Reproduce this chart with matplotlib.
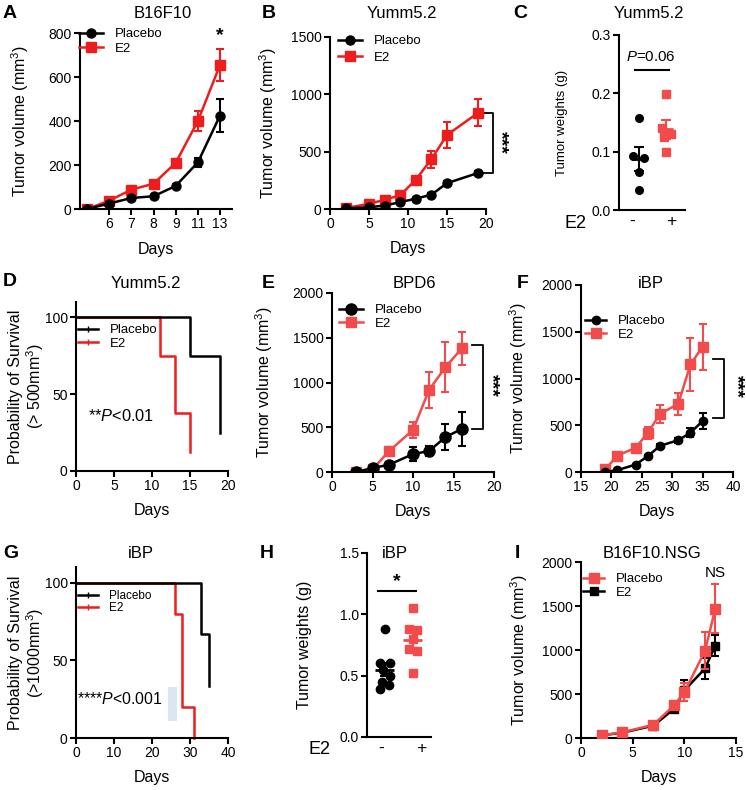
import numpy as np
import matplotlib
matplotlib.use('Agg')
import matplotlib.pyplot as plt
from matplotlib.lines import Line2D
from matplotlib.patches import Rectangle

plt.rcParams['font.family'] = ['Liberation Sans', 'DejaVu Sans']
plt.rcParams['mathtext.fontset'] = 'custom'
plt.rcParams['mathtext.rm'] = 'Liberation Sans'
plt.rcParams['mathtext.it'] = 'Liberation Sans:italic'

RED = '#EE1C1C'
LRED = '#F24B4B'
BLK = 'black'

# ---- data ----
# A: B16F10
a_labels = ['', '6', '7', '8', '9', '11', '13']
a_pl = [0, 25, 50, 58, 105, 212, 425]
a_pl_err = [3, 5, 6, 6, 8, 22, 75]
a_e2 = [0, 38, 88, 115, 210, 400, 655]
a_e2_err = [3, 6, 8, 8, 12, 45, 72]

# B: Yumm5.2 growth
b_days = [2, 5, 7, 9, 11, 13, 15, 19]
b_pl = [5, 15, 30, 60, 90, 125, 225, 315]
b_pl_err = [2, 4, 6, 8, 10, 12, 15, 15]
b_e2 = [8, 45, 80, 120, 255, 435, 645, 840]
b_e2_err = [3, 8, 10, 15, 30, 75, 115, 120]

# C: Yumm5.2 weights (value, x offset in group)
c_pl = [0.158, 0.092, 0.090, 0.065, 0.035]
c_pl_x = [0.0, -0.21, 0.19, 0.0, 0.0]
c_e2 = [0.198, 0.140, 0.130, 0.125, 0.100]
c_e2_x = [0.0, -0.12, 0.22, -0.06, 0.0]

# D: Yumm5.2 survival (>500 mm3)
d_pl_t = [0, 15, 19]
d_pl_s = [100, 75, 25]
d_e2_t = [0, 11, 13, 15]
d_e2_s = [100, 75, 37.5, 12.5]

# E: BPD6
e_days = [3, 5, 7, 10, 12, 14, 16]
e_pl = [0, 45, 80, 200, 235, 390, 480]
e_pl_err = [5, 10, 15, 75, 60, 145, 195]
e_e2 = [0, 30, 230, 470, 920, 1170, 1380]
e_e2_err = [5, 10, 45, 90, 200, 280, 180]

# F: iBP
f_days = [19, 21, 24, 26, 28, 31, 33, 35]
f_pl = [0, 20, 80, 170, 280, 340, 420, 545]
f_pl_err = [3, 5, 10, 15, 20, 25, 50, 85]
f_e2 = [30, 175, 260, 420, 620, 730, 1150, 1340]
f_e2_err = [5, 15, 20, 65, 100, 120, 280, 245]

# G: iBP survival (>1000 mm3)
g_pl_t = [0, 33, 35]
g_pl_s = [100, 66.7, 33.3]
g_e2_t = [0, 26, 28, 31]
g_e2_s = [100, 80, 20, 0]
g_box = (24.2, 11, 2.4, 22)  # x, y, w, h of the pale highlight

# H: iBP weights
h_pl = [0.88, 0.60, 0.60, 0.55, 0.50, 0.45, 0.42, 0.39]
h_pl_x = [0.0, -0.15, 0.18, -0.05, 0.2, -0.1, 0.15, -0.15]
h_e2 = [1.05, 0.88, 0.87, 0.80, 0.72, 0.70, 0.52]
h_e2_x = [0.0, -0.14, 0.15, 0.0, -0.14, 0.15, 0.0]

# I: B16F10.NSG
i_days = [2, 4, 7, 9, 10, 12, 13]
i_pl = [30, 65, 150, 370, 520, 990, 1470]
i_pl_err = [5, 10, 20, 40, 100, 210, 275]
i_e2 = [30, 60, 140, 330, 540, 790, 1050]
i_e2_err = [5, 8, 20, 40, 120, 120, 120]

W, H = 746, 790
TICK = 10
LAB = 11.5
LEG = 9.5
XPAD = 7
fig = plt.figure(figsize=(W / 100, H / 100), dpi=100)


def px_axes(l, t, r, b):
    ax = fig.add_axes([l / W, 1 - b / H, (r - l) / W, (b - t) / H])
    for s in ['top', 'right']:
        ax.spines[s].set_visible(False)
    for s in ['left', 'bottom']:
        ax.spines[s].set_linewidth(1.5)
    ax.tick_params(width=1.5, length=4, labelsize=TICK, pad=2)
    return ax


def ftext(x, y, s, **kw):
    fig.text(x / W, 1 - y / H, s, ha=kw.pop('ha', 'center'), va='center', **kw)


def legend(ax, handles, labels, x, y, fs=LEG, sp=0.2, hl=1.8):
    ax.legend(handles, labels, loc='upper left', bbox_to_anchor=(x / W, 1 - y / H),
              bbox_transform=fig.transFigure, frameon=False, fontsize=fs,
              handlelength=hl, handletextpad=0.9, borderaxespad=0, borderpad=0,
              labelspacing=sp)


def growth(ax, x, y, err, color, marker, ms, z=2):
    return ax.errorbar(x, y, yerr=err, fmt='-' + marker, color=color, ms=ms, lw=1.8,
                       elinewidth=1.5, capsize=3, capthick=1.5, zorder=z)[0]


def bracket(ax, x0, x1, y0, y1, xs, ys):
    ax.plot([x0, x1, x1, x0], [y0, y0, y1, y1], color='black', lw=1.3, clip_on=False)
    ax.text(xs, ys, '***', rotation=270, ha='center', va='center', fontsize=14,
            fontweight='bold', clip_on=False)


def dots(ax, g, vals, offs, color, marker, ms, half, cap):
    vals = np.array(vals)
    ax.plot(g + np.array(offs), vals, marker, color=color, ms=ms, ls='none', zorder=2)
    m = vals.mean()
    sem = vals.std(ddof=1) / np.sqrt(len(vals))
    ax.hlines(m, g - half, g + half, color=color, lw=2, zorder=3)
    ax.errorbar(g, m, yerr=sem, color=color, capsize=cap, elinewidth=1.5, capthick=1.5, zorder=3)


def survival(ax, t, s, color, z):
    ax.step(t, s, where='post', color=color, lw=1.8, clip_on=False, zorder=z)


tvol = 'Tumor volume (mm$^3$)'

# ---- A ----
ax = px_axes(80, 33, 232, 209)
xa = np.arange(len(a_labels))
growth(ax, xa, a_pl, a_pl_err, BLK, 'o', 6.5, 3)
growth(ax, xa, a_e2, a_e2_err, RED, 's', 7, 2)
ax.set_xlim(-0.32, 6.54)
ax.set_ylim(0, 800)
ax.set_yticks([0, 200, 400, 600, 800])
ax.set_xticks([i for i, l in enumerate(a_labels) if l])
ax.set_xticklabels([l for l in a_labels if l])
ax.set_xlabel('Days', fontsize=LAB, labelpad=XPAD + 1)
ax.set_ylabel(tvol, fontsize=LAB)
ax.yaxis.set_label_coords(-0.32, 0.5)
ax.text(6, 790, '*', ha='center', va='center', fontsize=14, fontweight='bold')
legend(ax, [Line2D([], [], color=BLK, marker='o', ms=6.5, lw=1.8),
            Line2D([], [], color=RED, marker='s', ms=7, lw=1.8)],
       ['Placebo', 'E2'], 79, 28)

# ---- B ----
ax = px_axes(330, 37, 486, 209)
growth(ax, b_days, b_pl, b_pl_err, BLK, 'o', 6.5, 3)
growth(ax, b_days, b_e2, b_e2_err, RED, 's', 7, 2)
ax.set_xlim(0, 20)
ax.set_ylim(0, 1500)
ax.set_xticks([0, 5, 10, 15, 20])
ax.set_yticks([0, 500, 1000, 1500])
ax.set_xlabel('Days', fontsize=LAB, labelpad=XPAD)
ax.set_ylabel(tvol, fontsize=LAB)
ax.yaxis.set_label_coords(-0.33, 0.5)
bracket(ax, 19.6, 20.9, b_e2[-1], b_pl[-1], 21.9, 580)
legend(ax, [Line2D([], [], color=BLK, marker='o', ms=6.5, lw=1.8),
            Line2D([], [], color=RED, marker='s', ms=7, lw=1.8)],
       ['Placebo', 'E2'], 338, 35, sp=0.35)

# ---- C ----
ax = px_axes(619, 35, 685, 210)
dots(ax, 0, c_pl, c_pl_x, BLK, 'o', 5.5, 0.28, 3.3)
dots(ax, 1, c_e2, c_e2_x, LRED, 's', 5.5, 0.28, 3.3)
ax.set_xlim(-0.75, 1.73)
ax.set_ylim(0, 0.3)
ax.set_yticks([0, 0.1, 0.2, 0.3])
ax.set_yticklabels(['0.0', '0.1', '0.2', '0.3'])
ax.set_xticks([-0.24, 1.2])
ax.set_xticklabels(['-', '+'], fontsize=12.5)
ax.tick_params(axis='x', length=0, pad=3)
ax.set_ylabel('Tumor weights (g)', fontsize=9.5)
ax.yaxis.set_label_coords(-0.77, 0.5)
ax.plot([-0.15, 1.14], [0.24, 0.24], color='black', lw=1.5)
ax.text(0.45, 0.262, '$\\it{P}$=0.06', ha='center', va='center', fontsize=10.8)
ftext(575, 223, 'E2', fontsize=13)

# ---- D ----
ax = px_axes(76, 302, 228, 471)
survival(ax, d_e2_t, d_e2_s, RED, 2)
survival(ax, d_pl_t, d_pl_s, BLK, 3)
ax.set_xlim(0, 20)
ax.set_ylim(0, 110)
ax.set_xticks([0, 5, 10, 15, 20])
ax.set_yticks([0, 50, 100])
ax.set_xlabel('Days', fontsize=LAB, labelpad=XPAD)
ax.set_ylabel('Probability of Survival\n(> 500mm$^3$)', fontsize=LAB, linespacing=1.05)
ax.yaxis.set_label_coords(-0.2, 0.5)
ax.text(6.0, 36, '**$\\it{P}$<0.01', ha='center', va='center', fontsize=11.8)
legend(ax, [Line2D([], [], color=BLK, lw=1.8, marker='|', ms=5),
            Line2D([], [], color=RED, lw=1.8, marker='|', ms=5)],
       ['Placebo', 'E2'], 78, 324, sp=0.1, hl=1.5)

# ---- E ----
ax = px_axes(332, 293, 494, 472)
growth(ax, e_days, e_pl, e_pl_err, BLK, 'o', 8, 3)
growth(ax, e_days, e_e2, e_e2_err, LRED, 's', 6.5, 2)
ax.set_xlim(0, 20)
ax.set_ylim(0, 2000)
ax.set_xticks([0, 5, 10, 15, 20])
ax.set_yticks([0, 500, 1000, 1500, 2000])
ax.set_xlabel('Days', fontsize=LAB, labelpad=XPAD)
ax.set_ylabel(tvol, fontsize=LAB)
ax.yaxis.set_label_coords(-0.35, 0.5)
bracket(ax, 17.3, 18.6, 1420, e_pl[-1], 19.7, 970)
legend(ax, [Line2D([], [], color=BLK, marker='o', ms=8, lw=1.8),
            Line2D([], [], color=LRED, marker='s', ms=6.5, lw=1.8)],
       ['Placebo', 'E2'], 339, 304, sp=0.1)

# ---- F ----
ax = px_axes(581, 285, 733, 472)
growth(ax, f_days, f_pl, f_pl_err, BLK, 'o', 6, 3)
growth(ax, f_days, f_e2, f_e2_err, LRED, 's', 6.5, 2)
ax.set_xlim(15, 40)
ax.set_ylim(0, 2000)
ax.set_xticks([15, 20, 25, 30, 35, 40])
ax.set_yticks([0, 500, 1000, 1500, 2000])
ax.set_xlabel('Days', fontsize=LAB, labelpad=XPAD)
ax.set_ylabel(tvol, fontsize=LAB)
ax.yaxis.set_label_coords(-0.34, 0.5)
bracket(ax, 36.7, 38.6, 1210, 580, 40.5, 910)
legend(ax, [Line2D([], [], color=BLK, marker='o', ms=6, lw=1.8),
            Line2D([], [], color=LRED, marker='s', ms=6.5, lw=1.8)],
       ['Placebo', 'E2'], 585, 315, sp=0.1, hl=1.6)

# ---- G ----
ax = px_axes(76, 567, 228, 738)
ax.add_patch(Rectangle(g_box[:2], g_box[2], g_box[3], color='#DCE6F2', lw=0, zorder=0))
survival(ax, g_e2_t, g_e2_s, RED, 2)
survival(ax, g_pl_t, g_pl_s, BLK, 3)
ax.set_xlim(0, 40)
ax.set_ylim(0, 110)
ax.set_xticks([0, 10, 20, 30, 40])
ax.set_yticks([0, 50, 100])
ax.set_xlabel('Days', fontsize=LAB, labelpad=XPAD)
ax.set_ylabel('Probability of Survival\n(>1000mm$^3$)', fontsize=LAB, linespacing=1.05)
ax.yaxis.set_label_coords(-0.2, 0.5)
ax.text(11.5, 25, '****$\\it{P}$<0.001', ha='center', va='center', fontsize=11.4)
legend(ax, [Line2D([], [], color=BLK, lw=1.8, marker='|', ms=5),
            Line2D([], [], color=RED, lw=1.8, marker='|', ms=5)],
       ['Placebo', 'E2'], 78, 590, fs=8.5, sp=0.0, hl=1.7)

# ---- H ----
ax = px_axes(367, 553, 431, 737)
dots(ax, 0, h_pl, h_pl_x, BLK, 'o', 6, 0.34, 3.5)
dots(ax, 1, h_e2, h_e2_x, LRED, 's', 6, 0.34, 3.5)
ax.set_xlim(-0.63, 1.65)
ax.set_ylim(0, 1.5)
ax.set_yticks([0, 0.5, 1.0, 1.5])
ax.set_yticklabels(['0.0', '0.5', '1.0', '1.5'])
ax.set_xticks([-0.13, 1.31])
ax.set_xticklabels(['-', '+'], fontsize=12.5)
ax.tick_params(axis='x', length=0, pad=3)
ax.set_ylabel('Tumor weights (g)', fontsize=11.5)
ax.yaxis.set_label_coords(-0.86, 0.5)
ax.plot([-0.24, 1.1], [1.19, 1.19], color='black', lw=1.5)
ax.text(0.44, 1.27, '*', ha='center', va='center', fontsize=14, fontweight='bold')
ftext(319, 750, 'E2', fontsize=13)

# ---- I ----
ax = px_axes(581, 562, 736, 738)
growth(ax, i_days, i_e2, i_e2_err, BLK, 's', 6, 2)
growth(ax, i_days, i_pl, i_pl_err, LRED, 's', 6.5, 3)
ax.set_xlim(0, 15)
ax.set_ylim(0, 2000)
ax.set_xticks([0, 5, 10, 15])
ax.set_yticks([0, 500, 1000, 1500, 2000])
ax.set_xlabel('Days', fontsize=LAB, labelpad=XPAD)
ax.set_ylabel(tvol, fontsize=LAB)
ax.yaxis.set_label_coords(-0.33, 0.5)
ax.text(13, 1870, 'NS', ha='center', va='center', fontsize=11)
legend(ax, [Line2D([], [], color=LRED, marker='s', ms=6.5, lw=1.8),
            Line2D([], [], color=BLK, marker='s', ms=6, lw=1.8)],
       ['Placebo', 'E2'], 583, 573, sp=0.1, hl=1.6)

# ---- titles and panel letters ----
titles = [(163, 14, 'B16F10'), (402, 14, 'Yumm5.2'), (649, 13, 'Yumm5.2'),
          (146, 283, 'Yumm5.2'), (414, 283, 'BPD6'), (651, 283, 'iBP'),
          (141, 553, 'iBP'), (395, 553, 'iBP'), (652, 553, 'B16F10.NSG')]
for x, y, s in titles:
    ftext(x, y, s, fontsize=12)

letters = [(3, 13, 'A'), (262, 13, 'B'), (513, 13, 'C'),
           (3, 282, 'D'), (262, 283, 'E'), (517, 283, 'F'),
           (3, 553, 'G'), (260, 553, 'H'), (515, 553, 'I')]
for x, y, s in letters:
    ftext(x, y, s, ha='left', fontsize=14, fontweight='bold')

fig.savefig('out.png', dpi=100)
